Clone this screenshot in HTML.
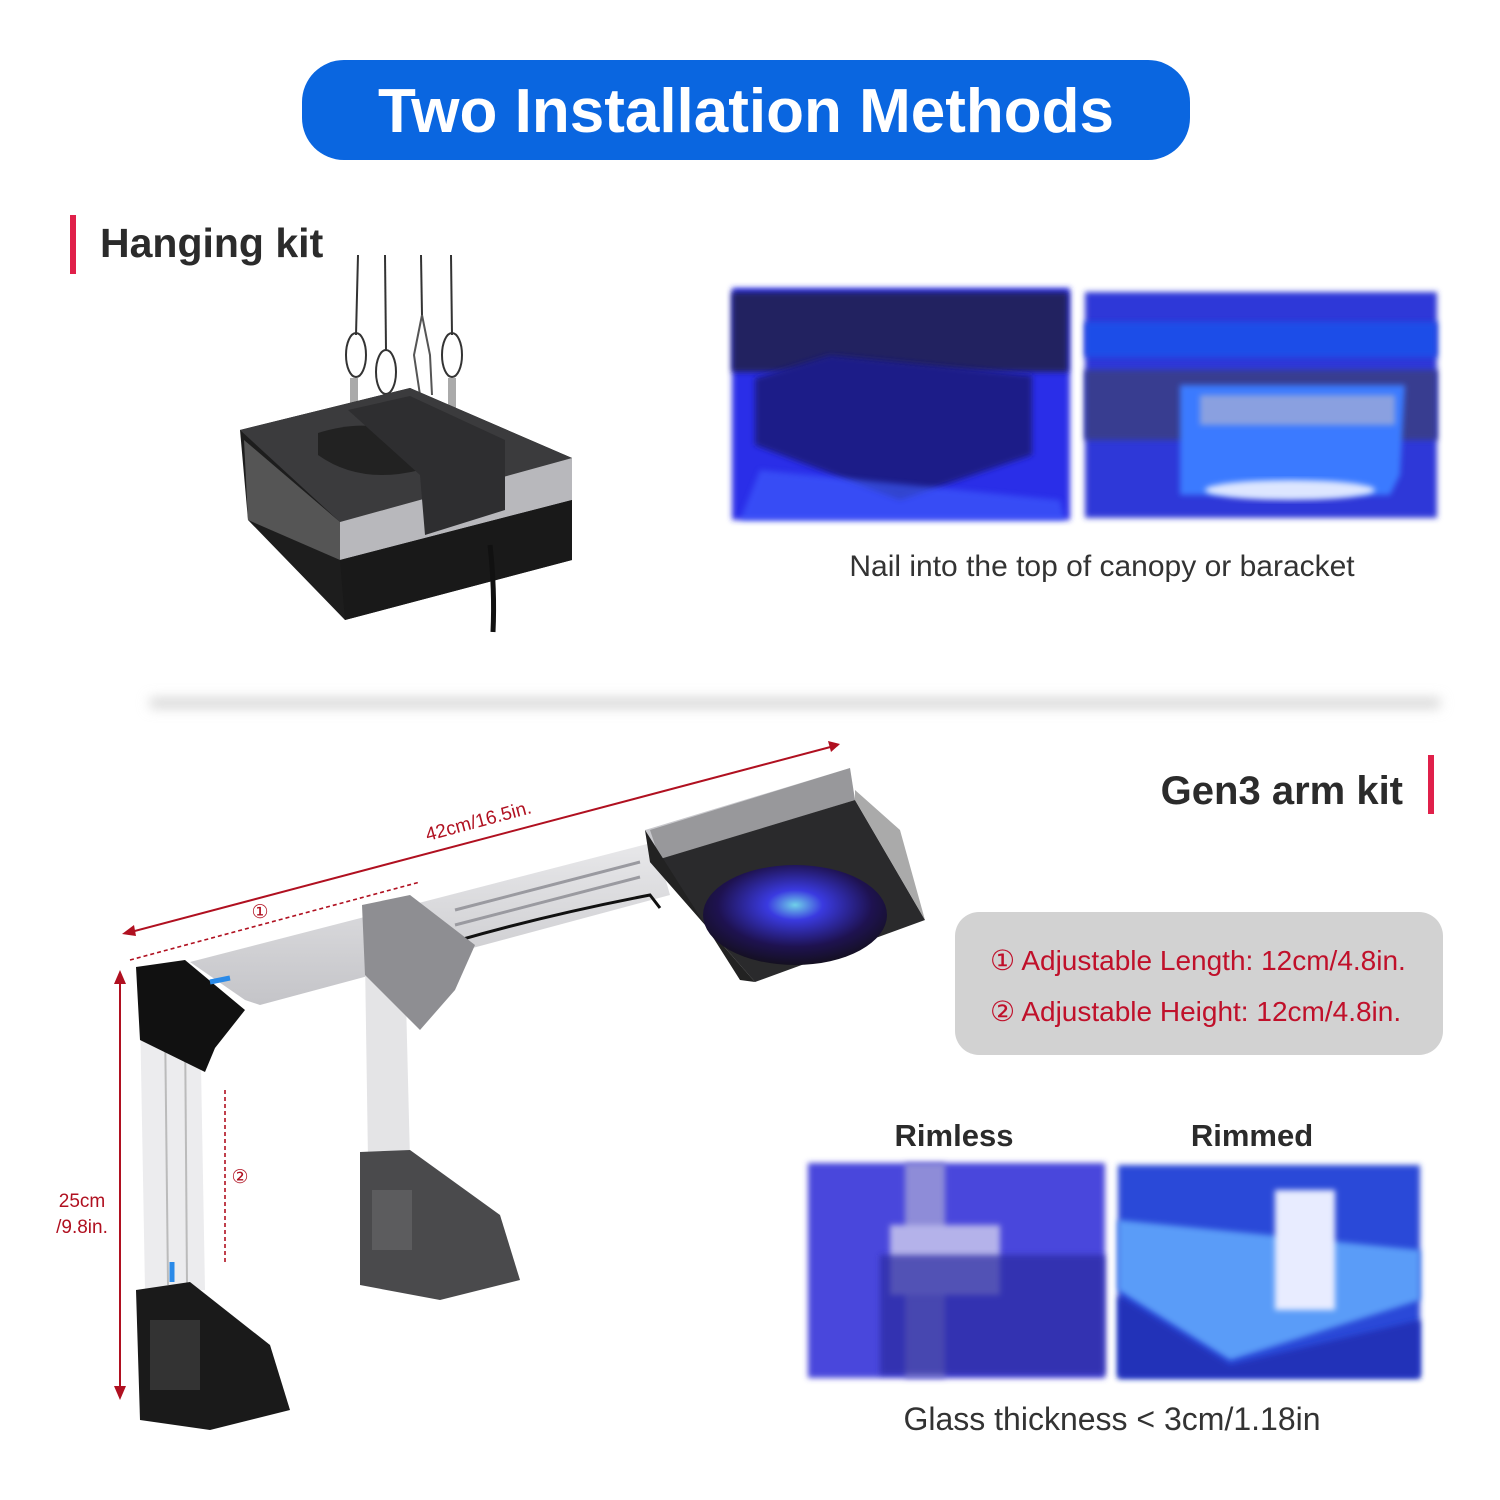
<!DOCTYPE html>
<html><head><meta charset="utf-8"><style>
html,body{margin:0;padding:0;background:#fff;width:1500px;height:1500px;overflow:hidden}
svg{display:block}
text{font-family:"Liberation Sans",sans-serif}
</style></head><body>
<svg width="1500" height="1500" viewBox="0 0 1500 1500" xmlns="http://www.w3.org/2000/svg">
<defs>
<filter id="blur" x="-20%" y="-20%" width="140%" height="140%"><feGaussianBlur stdDeviation="3"/></filter>
<filter id="blur8" x="-5%" y="-200%" width="110%" height="500%"><feGaussianBlur stdDeviation="6"/></filter>
<radialGradient id="lens" cx="0.5" cy="0.4" r="0.6"><stop offset="0" stop-color="#6fd0e8"/><stop offset="0.25" stop-color="#3a3ae0"/><stop offset="0.7" stop-color="#1e1250"/><stop offset="1" stop-color="#141020"/></radialGradient>
<linearGradient id="armg" x1="0" y1="0" x2="0" y2="1"><stop offset="0" stop-color="#e8e8ea"/><stop offset="1" stop-color="#c4c4c8"/></linearGradient>
</defs>

<rect x="302" y="60" width="888" height="100" rx="42" fill="#0a66e0"/>
<text x="746" y="132" text-anchor="middle" font-size="62" font-weight="bold" fill="#fff">Two Installation Methods</text>

<rect x="70" y="215" width="6" height="59" fill="#e0204a"/>
<text x="100" y="257" font-size="41" font-weight="bold" fill="#2b2b2b">Hanging kit</text>

<g>
<line x1="358" y1="255" x2="356" y2="335" stroke="#333" stroke-width="2"/>
<line x1="385" y1="255" x2="386" y2="350" stroke="#333" stroke-width="2"/>
<line x1="421" y1="255" x2="422" y2="315" stroke="#333" stroke-width="2"/>
<line x1="451" y1="255" x2="452" y2="335" stroke="#333" stroke-width="2"/>
<ellipse cx="356" cy="355" rx="10" ry="22" fill="none" stroke="#333" stroke-width="2"/>
<ellipse cx="386" cy="372" rx="10" ry="22" fill="none" stroke="#333" stroke-width="2"/>
<ellipse cx="452" cy="355" rx="10" ry="22" fill="none" stroke="#333" stroke-width="2"/>
<path d="M422 315 L414 355 L420 395 M422 315 L430 355 L432 395" fill="none" stroke="#555" stroke-width="2"/>
<rect x="350" y="378" width="8" height="40" fill="#aaa"/><rect x="382" y="398" width="8" height="40" fill="#aaa"/><rect x="448" y="378" width="8" height="40" fill="#aaa"/>
<polygon points="240,430 410,388 572,458 572,560 345,620 248,520" fill="#1d1d1d"/>
<polygon points="240,430 410,388 572,458 340,522" fill="#3b3b3d"/>
<polygon points="340,522 572,458 572,500 340,560" fill="#b8b8bc"/>
<polygon points="244,440 340,522 340,560 248,520" fill="#555"/>
<polygon points="340,560 572,500 572,560 345,620" fill="#191919"/>
<path d="M318 433 Q360 420 390 430 L420 470 Q360 485 318 455 Z" fill="#222"/>
<polygon points="348,410 410,396 505,440 505,510 425,535 420,475" fill="#2e2e30"/>
<path d="M490 545 Q495 590 493 632" fill="none" stroke="#111" stroke-width="5"/>
</g>

<g>
<rect x="732" y="288" width="338" height="232" fill="#2b2fe8" filter="url(#blur)"/>
<rect x="732" y="292" width="336" height="80" fill="#222060" filter="url(#blur)"/>
<polygon points="755,378 830,355 1032,375 1032,455 900,500 755,445" fill="#1c1a88" filter="url(#blur)"/>
<polygon points="760,470 1060,500 1065,520 740,520" fill="#4060ff" opacity="0.6" filter="url(#blur)"/>
<rect x="1085" y="292" width="352" height="226" fill="#2f38d8" filter="url(#blur)"/>
<rect x="1085" y="322" width="352" height="35" fill="#1e4de8" filter="url(#blur)"/>
<rect x="1085" y="370" width="352" height="70" fill="#393c90" filter="url(#blur)"/>
<polygon points="1180,385 1405,385 1400,475 1390,495 1180,495" fill="#3a7aff" filter="url(#blur)"/>
<rect x="1200" y="395" width="195" height="30" fill="#8aa0e0" filter="url(#blur)"/>
<ellipse cx="1290" cy="490" rx="85" ry="10" fill="#dde6ff" filter="url(#blur)"/>
</g>
<text x="1102" y="576" text-anchor="middle" font-size="30" fill="#333">Nail into the top of canopy or baracket</text>

<rect x="150" y="698" width="1290" height="10" fill="#d4d4d4" filter="url(#blur8)"/>

<text x="1403" y="804" text-anchor="end" font-size="40" font-weight="bold" fill="#2b2b2b">Gen3 arm kit</text>
<rect x="1428" y="755" width="6" height="59" fill="#e0204a"/>

<rect x="955" y="912" width="488" height="143" rx="24" fill="#d2d2d2"/>
<text x="990" y="970" font-size="28" fill="#c0102a">① Adjustable Length: 12cm/4.8in.</text>
<text x="990" y="1021" font-size="28" fill="#c0102a">② Adjustable Height: 12cm/4.8in.</text>

<text x="954" y="1146" text-anchor="middle" font-size="31" font-weight="bold" fill="#2b2b2b">Rimless</text>
<text x="1252" y="1146" text-anchor="middle" font-size="31" font-weight="bold" fill="#2b2b2b">Rimmed</text>
<g>
<rect x="808" y="1163" width="297" height="215" fill="#4a46dc" filter="url(#blur)"/>
<rect x="905" y="1163" width="40" height="215" fill="#8e8cd8" filter="url(#blur)"/>
<rect x="890" y="1225" width="110" height="70" fill="#b4b2ea" filter="url(#blur)"/>
<rect x="880" y="1255" width="225" height="120" fill="#2a2aa0" opacity="0.7" filter="url(#blur)"/>
<rect x="1118" y="1165" width="302" height="213" fill="#2c48d8" filter="url(#blur)"/>
<polygon points="1118,1220 1420,1250 1420,1300 1230,1360 1118,1290" fill="#5a9cf8" filter="url(#blur)"/>
<rect x="1275" y="1190" width="60" height="120" fill="#e8ecff" filter="url(#blur)"/>
<polygon points="1118,1295 1230,1365 1420,1320 1420,1378 1118,1378" fill="#2030b8" filter="url(#blur)"/>
</g>
<text x="1112" y="1430" text-anchor="middle" font-size="32" fill="#333">Glass thickness &lt; 3cm/1.18in</text>

<g>
<polygon points="190,962 655,842 670,895 260,1005 245,1000" fill="url(#armg)"/>
<line x1="455" y1="910" x2="640" y2="862" stroke="#9a9aa0" stroke-width="3"/>
<line x1="455" y1="925" x2="640" y2="877" stroke="#9a9aa0" stroke-width="3"/>
<path d="M410 955 Q520 920 650 895 L660 908" fill="none" stroke="#111" stroke-width="3"/>
<polygon points="645,830 850,768 855,800 650,862" fill="#c8c8cc"/>
<polygon points="650,830 850,768 855,800 660,860" fill="#2a2a2a" opacity="0.3"/>
<polygon points="650,862 855,800 925,920 755,982" fill="#2a2a2c"/>
<polygon points="645,830 650,862 755,982 740,980" fill="#222"/>
<polygon points="855,790 900,830 925,920 855,800" fill="#aaa"/>
<ellipse cx="795" cy="915" rx="92" ry="50" fill="url(#lens)"/>
<polygon points="140,1010 200,1010 205,1290 145,1290" fill="#ececee"/>
<line x1="165" y1="1020" x2="168" y2="1285" stroke="#bbb" stroke-width="2"/>
<line x1="185" y1="1020" x2="187" y2="1285" stroke="#bbb" stroke-width="2"/>
<polygon points="136,967 185,960 245,1010 215,1048 205,1072 140,1040" fill="#111"/>
<polygon points="136,1290 190,1282 270,1345 290,1410 210,1430 140,1420" fill="#1a1a1a"/>
<rect x="150" y="1320" width="50" height="70" fill="#333"/>
<polygon points="365,960 405,960 410,1160 368,1160" fill="#e4e4e6"/>
<polygon points="362,905 410,895 475,945 455,990 420,1030 365,975" fill="#8e8e92"/>
<polygon points="360,1152 410,1150 500,1215 520,1280 440,1300 360,1285" fill="#4a4a4c"/>
<rect x="372" y="1190" width="40" height="60" fill="#5c5c5e"/>
<path d="M210 982 L230 978" stroke="#2a8ae8" stroke-width="5"/>
<path d="M172 1262 L172 1282" stroke="#2a8ae8" stroke-width="5"/>
<line x1="127" y1="933" x2="838" y2="745" stroke="#b01020" stroke-width="2"/>
<polygon points="122,934 134,925 136,936" fill="#b01020"/>
<polygon points="840,744 828,741 831,752" fill="#b01020"/>
<line x1="130" y1="960" x2="420" y2="882" stroke="#b01020" stroke-width="1.6" stroke-dasharray="4,3"/>
<line x1="120" y1="977" x2="120" y2="1395" stroke="#b01020" stroke-width="2"/>
<polygon points="120,970 114,984 126,984" fill="#b01020"/>
<polygon points="120,1400 114,1386 126,1386" fill="#b01020"/>
<line x1="225" y1="1090" x2="225" y2="1262" stroke="#b01020" stroke-width="1.6" stroke-dasharray="4,3"/>
<text x="260" y="918" text-anchor="middle" font-size="19" fill="#b01020">①</text>
<text x="240" y="1183" text-anchor="middle" font-size="19" fill="#b01020">②</text>
<text x="480" y="827" text-anchor="middle" font-size="19" fill="#b01020" transform="rotate(-15 480 827)">42cm/16.5in.</text>
<text x="82" y="1207" text-anchor="middle" font-size="19" fill="#b01020">25cm</text>
<text x="82" y="1233" text-anchor="middle" font-size="19" fill="#b01020">/9.8in.</text>
</g>
</svg>
</body></html>
